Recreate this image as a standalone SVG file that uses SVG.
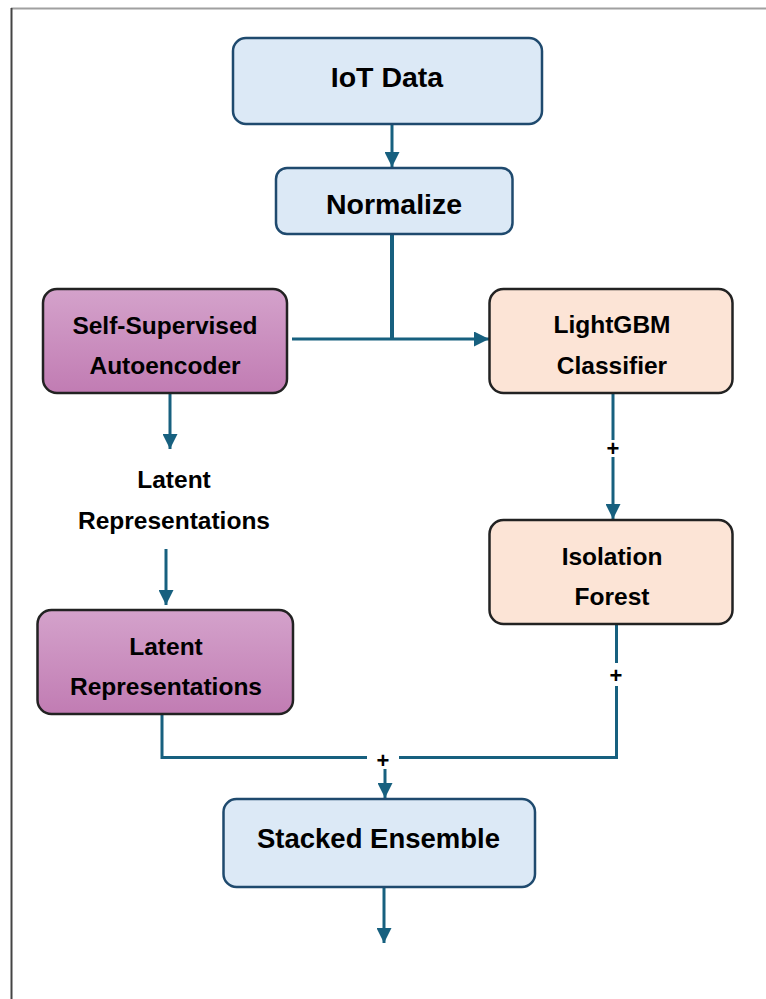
<svg xmlns="http://www.w3.org/2000/svg" width="766" height="999" viewBox="0 0 766 999">
<defs>
<linearGradient id="purple" x1="0" y1="0" x2="0" y2="1">
<stop offset="0" stop-color="#d4a2cb"/>
<stop offset="1" stop-color="#c17cb3"/>
</linearGradient>
<marker id="ah" viewBox="0 0 10 10" refX="10" refY="5" markerWidth="5" markerHeight="5" orient="auto" markerUnits="strokeWidth">
<path d="M0,0 L10,5 L0,10 Z" fill="#17607f"/>
</marker>
</defs>
<style>
.blue{fill:#dce9f6;stroke:#1f4a6e;stroke-width:2.5}
.purp{fill:url(#purple);stroke:#222;stroke-width:2.5}
.peach{fill:#fce4d6;stroke:#222;stroke-width:2.5}
text{font-family:"Liberation Sans",Arial,sans-serif;font-weight:bold;fill:#000;text-anchor:middle}
.big{font-size:28.5px}
.mid{font-size:24.5px}
.plus{font-size:22px}
.c{fill:none;stroke:#17607f;stroke-width:3}
</style>
<rect width="766" height="999" fill="#fff"/>
<line x1="11" y1="8.5" x2="766" y2="8.5" stroke="#a0a0a0" stroke-width="2"/>
<line x1="11.5" y1="8" x2="11.5" y2="999" stroke="#444" stroke-width="2"/>

<g id="connectors">
<line class="c" x1="392" y1="124" x2="392" y2="167" marker-end="url(#ah)"/>
<line class="c" x1="392" y1="234" x2="392" y2="339" style="stroke-width:4"/>
<line class="c" x1="292" y1="339" x2="489" y2="339" marker-end="url(#ah)"/>
<line class="c" x1="170" y1="393" x2="170" y2="449" marker-end="url(#ah)"/>
<line class="c" x1="166" y1="549" x2="166" y2="605" marker-end="url(#ah)"/>
<line class="c" x1="613" y1="393" x2="613" y2="440"/>
<line class="c" x1="613" y1="457" x2="613" y2="519" marker-end="url(#ah)"/>
<text class="plus" x="613" y="455.5">+</text>
<line class="c" x1="616.5" y1="624" x2="616.5" y2="663"/>
<polyline class="c" points="616.5,686 616.5,757.5 399,757.5"/>
<text class="plus" x="616" y="682.5">+</text>
<polyline class="c" points="162,713 162,757.5 367,757.5"/>
<text class="plus" x="383" y="767.5">+</text>
<line class="c" x1="385" y1="769" x2="385" y2="798" marker-end="url(#ah)"/>
<line class="c" x1="384" y1="887" x2="384" y2="943" marker-end="url(#ah)"/>
</g>

<g id="iot-data">
<rect class="blue" x="233" y="38" width="309" height="86" rx="13"/>
<text class="big" x="387" y="86.5">IoT Data</text>
</g>
<g id="normalize">
<rect class="blue" x="276" y="168" width="236.5" height="66" rx="11"/>
<text class="big" x="394" y="214">Normalize</text>
</g>
<g id="autoencoder">
<rect class="purp" x="43" y="289" width="244" height="104" rx="14"/>
<text class="mid" x="165" y="334">Self-Supervised</text>
<text class="mid" x="165" y="374">Autoencoder</text>
</g>
<g id="lightgbm">
<rect class="peach" x="489.5" y="289" width="243" height="104" rx="14"/>
<text class="mid" x="612" y="333">LightGBM</text>
<text class="mid" x="612" y="374">Classifier</text>
</g>
<g id="latent-label">
<text class="mid" x="174" y="488">Latent</text>
<text class="mid" x="174" y="529">Representations</text>
</g>
<g id="isolation-forest">
<rect class="peach" x="489.5" y="520" width="243" height="104" rx="14"/>
<text class="mid" x="612" y="565">Isolation</text>
<text class="mid" x="612" y="605">Forest</text>
</g>
<g id="latent-representations">
<rect class="purp" x="37.5" y="610" width="255.5" height="104" rx="14"/>
<text class="mid" x="166" y="655">Latent</text>
<text class="mid" x="166" y="695">Representations</text>
</g>
<g id="stacked-ensemble">
<rect class="blue" x="223.5" y="799" width="311.5" height="88" rx="13"/>
<text class="big" x="378.5" y="848" style="font-size:27.5px">Stacked Ensemble</text>
</g>
</svg>
